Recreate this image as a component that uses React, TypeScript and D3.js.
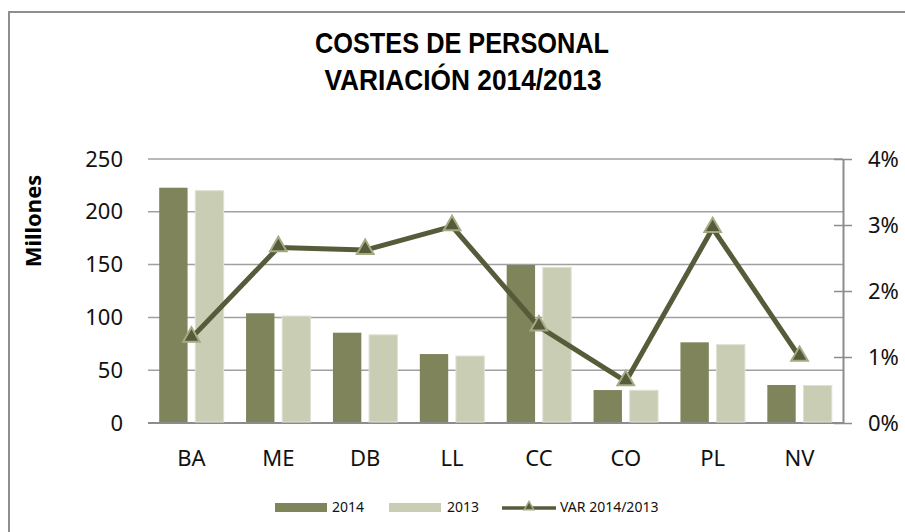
import * as d3 from "d3";
import { useEffect, useRef } from "react";

// values
const categories = ["BA", "ME", "DB", "LL", "CC", "CO", "PL", "NV"];
const costes2014 = [222.8, 103.9, 85.5, 65.3, 149.6, 31.2, 76.4, 36.0];
const costes2013 = [220.0, 101.3, 83.5, 63.4, 147.4, 31.0, 74.2, 35.5];
const variacion = [0.0129, 0.0266, 0.0262, 0.0298, 0.0146, 0.0063, 0.0295, 0.01];
const leftTicks = [0, 50, 100, 150, 200, 250];
const rightTicks = [0, 0.01, 0.02, 0.03, 0.04];
const seriesNames = ["2014", "2013", "VAR 2014/2013"];

const width = 905;
const height = 532;
const colors = { dark: "#80845a", light: "#c9cdb4", line: "#575b3a", marker: "#a4aa84", grid: "#a0a0a0" };
const font = "'Noto Sans', 'DejaVu Sans', sans-serif";

function CostesChart() {
  const ref = useRef<SVGSVGElement>(null);

  useEffect(() => {
    const svg = d3.select(ref.current);
    svg.selectAll("*").remove();

    const left = 148, right = 843, top = 159, bottom = 423;

    const x = d3.scaleBand().domain(categories).range([left, right]).padding(0);
    const xi = d3
      .scaleBand()
      .domain(["2014", "2013"])
      .range([0, x.bandwidth()])
      .paddingInner(0.214)
      .paddingOuter(0.31);
    const y = d3.scaleLinear().domain([0, 250]).range([bottom, top]);
    const y2 = d3.scaleLinear().domain([0, 0.04]).range([bottom, top]);

    // chart border (runs off the right and bottom edge like the picture)
    svg
      .append("rect")
      .attr("x", 9)
      .attr("y", 12)
      .attr("width", width + 20)
      .attr("height", height + 20)
      .attr("fill", "white")
      .attr("stroke", "#8e8e8e")
      .attr("stroke-width", 2);

    // title
    const title = svg
      .append("text")
      .attr("font-family", "'Liberation Sans', Arial, sans-serif")
      .attr("font-weight", "bold")
      .attr("font-size", 30)
      .attr("text-anchor", "middle")
      .attr("fill", "#000");
    title
      .append("tspan")
      .attr("x", 462)
      .attr("y", 53)
      .attr("textLength", 294)
      .attr("lengthAdjust", "spacingAndGlyphs")
      .text("COSTES DE PERSONAL");
    title
      .append("tspan")
      .attr("x", 463)
      .attr("y", 90)
      .attr("textLength", 277)
      .attr("lengthAdjust", "spacingAndGlyphs")
      .text("VARIACIÓN 2014/2013");

    // gridlines
    svg
      .append("g")
      .selectAll("line")
      .data(leftTicks)
      .join("line")
      .attr("x1", left)
      .attr("x2", right)
      .attr("y1", (d) => y(d))
      .attr("y2", (d) => y(d))
      .attr("stroke", (d) => (d === 0 ? "#8c8c8c" : colors.grid))
      .attr("stroke-width", (d) => (d === 0 ? 2 : 1.5));

    // left axis
    const gl = svg
      .append("g")
      .attr("transform", `translate(${left},0)`)
      .call(d3.axisLeft(y).tickValues(leftTicks).tickSize(0).tickPadding(25));
    gl.select(".domain").remove();
    gl.selectAll("text").attr("font-family", font).attr("font-size", 22).attr("fill", "#111");

    // right axis
    const gr = svg
      .append("g")
      .attr("transform", `translate(${right},0)`)
      .call(
        d3
          .axisRight(y2)
          .tickValues(rightTicks)
          .tickFormat(d3.format(".0%"))
          .tickSizeInner(9)
          .tickSizeOuter(0)
          .tickPadding(16)
      );
    gr.select(".domain").attr("stroke", "#8c8c8c").attr("stroke-width", 2);
    gr.selectAll(".tick line").attr("x1", -9).attr("stroke", "#8c8c8c").attr("stroke-width", 1.5);
    gr.selectAll("text").attr("font-family", font).attr("font-size", 22).attr("fill", "#111");

    // bars
    const groups = svg
      .append("g")
      .selectAll("g")
      .data(categories)
      .join("g")
      .attr("transform", (d) => `translate(${x(d)},0)`);

    groups
      .append("rect")
      .attr("x", xi("2014")!)
      .attr("width", xi.bandwidth())
      .attr("y", (d, i) => y(costes2014[i]))
      .attr("height", (d, i) => y(0) - y(costes2014[i]) - 1)
      .attr("fill", colors.dark);

    groups
      .append("rect")
      .attr("x", xi("2013")!)
      .attr("width", xi.bandwidth())
      .attr("y", (d, i) => y(costes2013[i]))
      .attr("height", (d, i) => y(0) - y(costes2013[i]) - 1)
      .attr("fill", colors.light)
      .attr("stroke", "#dfe1d4")
      .attr("stroke-width", 1);

    // x labels
    svg
      .append("g")
      .selectAll("text")
      .data(categories)
      .join("text")
      .attr("x", (d) => x(d)! + x.bandwidth() / 2)
      .attr("y", 466)
      .attr("text-anchor", "middle")
      .attr("font-family", font)
      .attr("font-size", 22)
      .attr("fill", "#111")
      .text((d) => d);

    // variation line
    const line = d3
      .line<number>()
      .x((d, i) => x(categories[i])! + x.bandwidth() / 2)
      .y((d) => y2(d));

    svg
      .append("path")
      .attr("d", line(variacion))
      .attr("fill", "none")
      .attr("stroke", colors.line)
      .attr("stroke-width", 5)
      .attr("stroke-linejoin", "round");

    const tri = d3.symbol(d3.symbolTriangle, 120);
    svg
      .append("g")
      .selectAll("path")
      .data(variacion)
      .join("path")
      .attr("transform", (d, i) => `translate(${x(categories[i])! + x.bandwidth() / 2},${y2(d) - 1})`)
      .attr("d", tri())
      .attr("fill", colors.line)
      .attr("stroke", colors.marker)
      .attr("stroke-width", 2);

    // y axis title
    svg
      .append("text")
      .attr("transform", "translate(41,221) rotate(-90)")
      .attr("text-anchor", "middle")
      .attr("font-family", font)
      .attr("font-weight", "bold")
      .attr("font-size", 22)
      .attr("fill", "#000")
      .text("Millones");

    // legend
    const lg = svg.append("g").attr("font-family", font).attr("font-size", 14).attr("fill", "#111");
    lg.append("rect").attr("x", 275).attr("y", 503).attr("width", 52).attr("height", 9).attr("fill", colors.dark);
    lg.append("text").attr("x", 332).attr("y", 512).text(seriesNames[0]);
    lg.append("rect").attr("x", 389).attr("y", 503).attr("width", 52).attr("height", 9).attr("fill", colors.light);
    lg.append("text").attr("x", 447).attr("y", 512).text(seriesNames[1]);
    lg.append("line")
      .attr("x1", 502)
      .attr("x2", 556)
      .attr("y1", 508)
      .attr("y2", 508)
      .attr("stroke", colors.line)
      .attr("stroke-width", 3.5);
    lg.append("path")
      .attr("transform", "translate(529,507)")
      .attr("d", d3.symbol(d3.symbolTriangle, 40)())
      .attr("fill", colors.line)
      .attr("stroke", colors.marker)
      .attr("stroke-width", 1.5);
    lg.append("text").attr("x", 560).attr("y", 512).text(seriesNames[2]);
  }, []);

  return (
    <svg
      ref={ref}
      width={width}
      height={height}
      style={{ position: "absolute", left: 0, top: 0, background: "white" }}
    ></svg>
  );
}

export default function App() {
  return <CostesChart />;
}
